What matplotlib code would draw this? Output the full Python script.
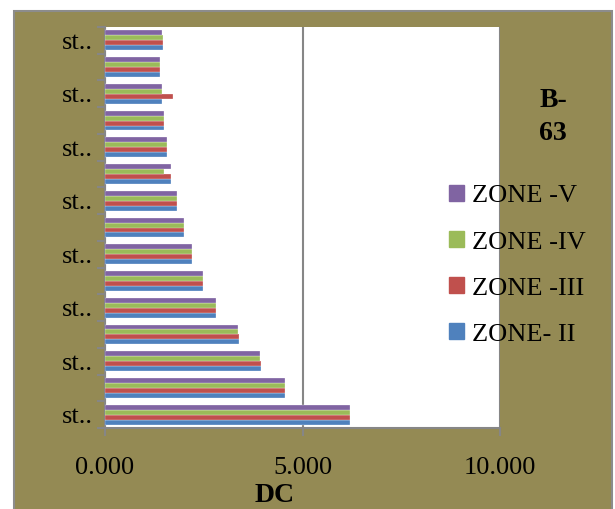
import numpy as np
import matplotlib.pyplot as plt
from matplotlib.patches import Rectangle, Patch

# DC values per station, bottom category first
zone_ii = [6.21, 4.55, 3.95, 3.38, 2.82, 2.47, 2.21, 2.01, 1.83, 1.68, 1.58, 1.49, 1.44, 1.38, 1.46]
zone_iii = [6.21, 4.55, 3.95, 3.38, 2.82, 2.47, 2.21, 2.00, 1.83, 1.68, 1.56, 1.49, 1.73, 1.38, 1.46]
zone_iv = [6.21, 4.55, 3.93, 3.36, 2.82, 2.47, 2.21, 2.00, 1.83, 1.49, 1.56, 1.49, 1.44, 1.38, 1.46]
zone_v = [6.21, 4.55, 3.93, 3.36, 2.82, 2.47, 2.21, 2.00, 1.83, 1.68, 1.56, 1.49, 1.44, 1.38, 1.45]
cat_labels = ["st.."] * 15

series = [
    ("ZONE- II", zone_ii, "#4F81BD"),
    ("ZONE -III", zone_iii, "#C0504D"),
    ("ZONE -IV", zone_iv, "#9BBB59"),
    ("ZONE -V", zone_v, "#8064A2"),
]

plt.rcParams["font.family"] = ["Liberation Serif", "DejaVu Serif"]
W, H = 615, 509
fig = plt.figure(figsize=(W / 100, H / 100), dpi=100, facecolor="white")

# olive chart background with grey frame
fig.patches.append(Rectangle((14 / W, -0.01), 598 / W, 1 - 11 / H + 0.01,
                             transform=fig.transFigure, facecolor="#948A54",
                             edgecolor="#8C8C8C", linewidth=1.5, zorder=-1))

ax = fig.add_axes([105 / W, 1 - 428 / H, 395 / W, 401 / H], zorder=1)
ax.set_facecolor("white")

n = len(zone_ii)
y = np.arange(n)
bh = 0.185
for i, (name, vals, col) in enumerate(series):
    ax.barh(y + (i - 1.5) * bh, vals, height=bh, color=col,
            edgecolor="white", linewidth=0.2, label=name, zorder=3)

ax.set_xlim(0, 10)
ax.set_ylim(-0.5, n - 0.5)
ax.set_xticks([0, 5, 10])
ax.set_xticklabels(["0.000", "5.000", "10.000"], fontsize=19)
ax.xaxis.grid(True, color="#868686", linewidth=1.5, zorder=1)

# category boundaries get tick marks, every other category gets a label
ax.set_yticks(np.arange(-0.5, n, 1))
ax.set_yticklabels([])
ax.set_yticks(y[::2], minor=True)
ax.set_yticklabels(cat_labels[::2], minor=True, fontsize=19)
ax.tick_params(axis="y", which="major", length=6, color="#868686", width=1.5)
ax.tick_params(axis="y", which="minor", length=0, pad=9)
ax.tick_params(axis="x", length=6, color="#868686", width=1.5, pad=15)

for s in ["top", "right"]:
    ax.spines[s].set_visible(False)
for s in ["left", "bottom"]:
    ax.spines[s].set_color("#868686")
    ax.spines[s].set_linewidth(1.5)

fig.text(275 / W, 1 - 495 / H, "DC", fontsize=20, fontweight="bold",
         ha="center", va="center")
fig.text(553 / W, 1 - 117 / H, "B-\n63", fontsize=20, fontweight="bold",
         ha="center", va="center", linespacing=1.45)

handles = [Patch(color=c, label=nm) for nm, _, c in series][::-1]
leg = fig.legend(handles=handles, loc="upper left", bbox_to_anchor=(436 / W, 1 - 172 / H),
                 frameon=False, fontsize=19, handlelength=0.55, handleheight=0.55,
                 handletextpad=0.3, labelspacing=0.9, borderpad=0)
leg.set_zorder(5)

fig.savefig("out.png", dpi=100)
